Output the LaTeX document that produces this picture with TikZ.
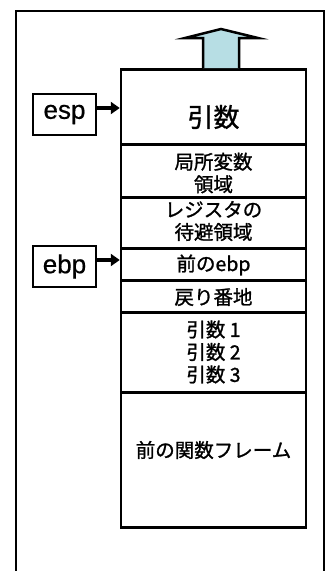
\documentclass[tikz,border=0pt]{standalone}
\usepackage{fontspec}
\newfontfamily\jpfont[FakeBold=1.2]{Noto Sans CJK JP}
\newfontfamily\lsfont[FakeBold=0.6]{Liberation Sans}
\usetikzlibrary{arrows.meta}
\definecolor{arrowblue}{RGB}{183,222,228}
\tikzset{
  cell/.style={draw, line width=2.5pt, minimum width=185pt, inner sep=0pt, anchor=north},
  celltext/.style={font=\jpfont\fontsize{19.5}{22.5}\selectfont, align=center, inner sep=0pt},
  regbox/.style={draw, line width=2.5pt, minimum width=63pt, minimum height=41pt, inner sep=0pt, font=\lsfont\fontsize{26}{28}\selectfont},
  ptr/.style={line width=3.5pt, -{Triangle[length=9pt,width=12pt]}}
}
\begin{document}
\begin{tikzpicture}[x=1pt,y=-1pt]
\useasboundingbox (0,0) rectangle (325,571);
% outer frame (open at bottom)
\draw[line width=2.5pt] (16,575) -- (16,11) -- (324,11) -- (324,575);
% stack cells
\node[cell, minimum height=75pt]  (c1) at (213.5,68)  {};
\node[cell, minimum height=53pt]  (c2) at (213.5,143) {};
\node[cell, minimum height=51pt]  (c3) at (213.5,196) {};
\node[cell, minimum height=32pt]  (c4) at (213.5,247) {};
\node[cell, minimum height=32pt]  (c5) at (213.5,279) {};
\node[cell, minimum height=80pt]  (c6) at (213.5,311) {};
\node[cell, minimum height=135pt] (c7) at (213.5,391) {};
% texts
\node[celltext, font=\jpfont\fontsize{26}{28}\selectfont] (t1) at (213.5,117) {引数};
\node[celltext] (t2) at (213.5,173) {局所変数\\領域};
\node[celltext] (t3) at (213.5,221) {レジスタの\\待避領域};
\node[celltext] (t4) at (213.5,265) {前のebp};
\node[celltext] (t5) at (213.5,297) {戻り番地};
\node[celltext] (t6) at (213.5,352) {引数 1\\引数 2\\引数 3};
\node[celltext] (t7) at (213.5,450) {前の関数フレーム};
% growth arrow
\draw[line width=2.5pt, fill=arrowblue, line join=miter]
  (203,68) -- (203,38) -- (185,38) -- (221,29) -- (258,38) -- (239,38) -- (239,68);
% registers
\node[regbox] (esp) at (64.5,114.5) {esp};
\node[regbox] (ebp) at (64.5,266.5) {ebp};
\draw[ptr] ([yshift=6.5pt]esp.east) -- ([yshift=6.5pt]esp.east -| c1.west);
\draw[ptr] ([yshift=6.5pt]ebp.east) -- ([yshift=6.5pt]ebp.east -| c4.west);
\end{tikzpicture}
\end{document}
